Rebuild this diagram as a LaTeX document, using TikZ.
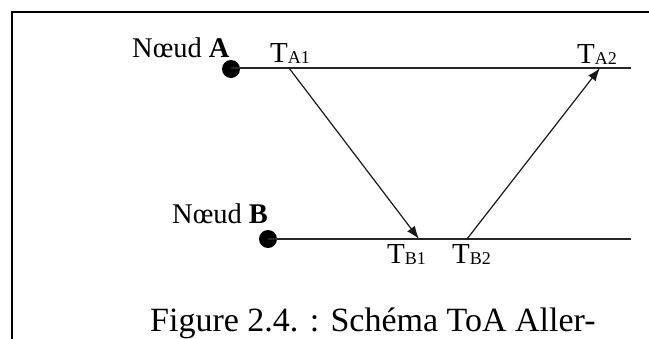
\documentclass[tikz,border=0pt]{standalone}
\usepackage{fontspec}
\setmainfont{Liberation Serif}
\usetikzlibrary{arrows.meta}
\tikzset{
  lbl/.style={inner sep=0pt, anchor=base west, font=\fontsize{28.5}{28.5}\selectfont},
  tlbl/.style={inner sep=0pt, anchor=base west, font=\fontsize{29}{29}\selectfont},
  dotnode/.style={circle, fill=black, inner sep=0pt, minimum size=18pt},
  timeline/.style={line width=1.6pt, draw=black!85},
  msg/.style={line width=1.2pt, draw=black!90, -{Latex[length=13pt,width=9.5pt]}},
  frame/.style={line width=2.2pt}
}
\newcommand{\tsub}[2]{T\raisebox{-1.5pt}{\fontsize{18}{18}\selectfont #1#2}}
\begin{document}
\begin{tikzpicture}[x=1pt,y=-1pt]
  \useasboundingbox (0,0) rectangle (649,338);
  \clip (0,0) rectangle (649,338);
  \draw[frame] (12,360) -- (12,12) -- (680,12);
  % nodes
  \node[dotnode] (dotA) at (231,69) {};
  \node[dotnode] (dotB) at (268,239) {};
  \coordinate (endA) at (631,68);
  \coordinate (endB) at (631,239);
  \coordinate (pA1) at (289,68);
  \coordinate (pA2) at (600,68);
  \coordinate (pB1) at (419,239);
  \coordinate (pB2) at (467,239);
  \draw[timeline] (dotA.center |- endA) -- (endA);
  \draw[timeline] (dotB.center) -- (endB);
  \draw[msg] (pA1) -- (pB1);
  \draw[msg] (pB2) -- (pA2);
  % labels
  \node[lbl] (labA) at (132,57) {N\oe ud \textbf{A}};
  \node[lbl] (labB) at (172,223) {N\oe ud \textbf{B}};
  \node[tlbl] (tA1) at (270,62) {\tsub{A}{1}};
  \node[tlbl] (tA2) at (577,63) {\tsub{A}{2}};
  \node[tlbl] (tB1) at (387,263) {\tsub{B}{1}};
  \node[tlbl] (tB2) at (452,263) {\tsub{B}{2}};
  \node[inner sep=0pt, anchor=base west, font=\fontsize{34}{34}\selectfont] (cap) at (150,331) {Figure 2.4. : Schéma ToA Aller-};
\end{tikzpicture}
\end{document}
